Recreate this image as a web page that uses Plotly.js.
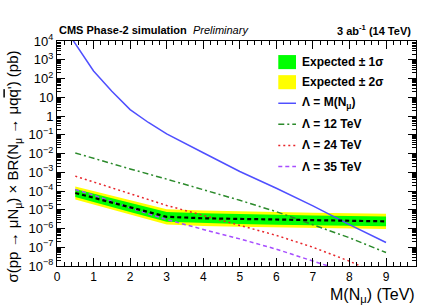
<!DOCTYPE html>
<html>
<head>
<meta charset="utf-8">
<script src="https://cdn.plot.ly/plotly-3.0.1.min.js"></script>
<style>html,body{margin:0;padding:0;background:#fff;}#chart{width:425px;height:307px;}</style>
</head>
<body>
<div id="chart"></div>
<script>
// ---- data ----
var massPoints = [0.5, 1, 2, 3, 4, 5, 6, 7, 8, 9];
var expMedian = [7.8e-5, 4.4e-5, 1.3e-5, 4.2e-6, 3.5e-6, 3.2e-6, 2.9e-6, 2.7e-6, 2.5e-6, 2.4e-6];
var expPlus1  = [1.26e-4, 7.2e-5, 2.3e-5, 7.6e-6, 6.5e-6, 5.8e-6, 5.2e-6, 4.9e-6, 4.6e-6, 4.4e-6];
var expMinus1 = [4.8e-5, 2.6e-5, 7.6e-6, 2.3e-6, 1.95e-6, 1.74e-6, 1.58e-6, 1.48e-6, 1.38e-6, 1.32e-6];
var expPlus2  = [1.74e-4, 1.0e-4, 3.2e-5, 1.07e-5, 9.1e-6, 8.1e-6, 7.4e-6, 6.9e-6, 6.5e-6, 6.2e-6];
var expMinus2 = [3.5e-5, 1.9e-5, 5.5e-6, 1.62e-6, 1.38e-6, 1.23e-6, 1.12e-6, 1.05e-6, 9.8e-7, 9.3e-7];

var massLM = [0.3, 1, 1.5, 2, 2.5, 3, 4, 5, 6, 7, 8, 9];
var xsecLM = [2.75e4, 250, 21, 2.2, 0.45, 0.11, 1.1e-2, 1.1e-3, 1.4e-4, 1.6e-5, 1.6e-6, 1.8e-7];

var xsec12 = [1.07e-2, 5.4e-3, 1.5e-3, 4.3e-4, 1.2e-4, 3.2e-5, 7.9e-6, 1.6e-6, 3.2e-7, 5.2e-8];
var xsec24 = [6.2e-4, 3.0e-4, 7.1e-5, 1.7e-5, 5.0e-6, 1.5e-6, 4.3e-7, 1.0e-7, 1.8e-8, 2.5e-9];
var xsec35 = [1.2e-4, 6.0e-5, 1.26e-5, 3.0e-6, 8.9e-7, 2.8e-7, 7.9e-8, 1.9e-8, 4.5e-9, 1.0e-9];

var xTickVals = [0,1,2,3,4,5,6,7,8,9];
var xTickText = ['0','1','2','3','4','5','6','7','8','9'];
var yTickExp = [4,3,2,1,0,-1,-2,-3,-4,-5,-6,-7,-8];
var yTickText = ['10<sup>4</sup>','10<sup>3</sup>','10<sup>2</sup>','10','1','10<sup>\u22121</sup>','10<sup>\u22122</sup>','10<sup>\u22123</sup>','10<sup>\u22124</sup>','10<sup>\u22125</sup>','10<sup>\u22126</sup>','10<sup>\u22127</sup>','10<sup>\u22128</sup>'];

var legendLabels = ['Expected \u00b1 1\u03c3','Expected \u00b1 2\u03c3','\u039b = M(N<sub>\u03bc</sub>)','\u039b = 12 TeV','\u039b = 24 TeV','\u039b = 35 TeV'];

// ---- build ----
function band(lo, hi) {
  return {
    x: massPoints.concat(massPoints.slice().reverse()),
    y: hi.concat(lo.slice().reverse())
  };
}
var b2 = band(expMinus2, expPlus2);
var b1 = band(expMinus1, expPlus1);

var colGreenBand = '#00ff00', colYellowBand = '#ffff00';
var colBlue = '#4f4fff', colGreen = '#2b8a2b', colRed = '#e8262b', colViolet = '#a64dff';

var traces = [
  {x: b2.x, y: b2.y, type: 'scatter', mode: 'lines', fill: 'toself', fillcolor: colYellowBand, line: {width: 0, color: colYellowBand}, showlegend: false, name: legendLabels[1], hoverinfo: 'skip'},
  {x: b1.x, y: b1.y, type: 'scatter', mode: 'lines', fill: 'toself', fillcolor: colGreenBand, line: {width: 0, color: colGreenBand}, showlegend: false, name: legendLabels[0], hoverinfo: 'skip'},
  {x: massLM, y: xsecLM, type: 'scatter', mode: 'lines', line: {color: colBlue, width: 1.5}, showlegend: false, name: legendLabels[2]},
  {x: massPoints, y: xsec12, type: 'scatter', mode: 'lines', line: {color: colGreen, width: 1.5, dash: '6px,3px,2px,3px'}, showlegend: false, name: legendLabels[3]},
  {x: massPoints, y: xsec24, type: 'scatter', mode: 'lines', line: {color: colRed, width: 1.5, dash: '2px,3px'}, showlegend: false, name: legendLabels[4]},
  {x: massPoints, y: xsec35, type: 'scatter', mode: 'lines', line: {color: colViolet, width: 1.5, dash: '4px,3px'}, showlegend: false, name: legendLabels[5]},
  {x: massPoints, y: expMedian, type: 'scatter', mode: 'lines', line: {color: '#000000', width: 2.2, dash: '4px,3px'}, showlegend: false, name: 'Expected'}
];

// minor ticks
var yMinor = [];
for (var e = -8; e < 4; e++) { for (var k = 2; k <= 9; k++) yMinor.push(k * Math.pow(10, e)); }
var xMinor = [];
for (var i = 0; i <= 49; i++) { if (i % 5 !== 0) xMinor.push(i * 0.2); }

var font = 'Liberation Sans, Arial, Helvetica, sans-serif';

// legend (manual, ROOT style)
var L = {x0: 0.6164, x1: 0.6657, tx: 0.678, rows: [63, 83, 104, 125, 146, 167]};
function py(p) { return (266 - p) / 224; }
var shapes = [
  {type: 'rect', xref: 'paper', yref: 'paper', x0: L.x0, x1: L.x1, y0: py(L.rows[0] + 7), y1: py(L.rows[0] - 7), fillcolor: colGreenBand, line: {width: 0}},
  {type: 'rect', xref: 'paper', yref: 'paper', x0: L.x0, x1: L.x1, y0: py(L.rows[1] + 7), y1: py(L.rows[1] - 7), fillcolor: colYellowBand, line: {width: 0}},
  {type: 'line', xref: 'paper', yref: 'paper', x0: L.x0, x1: L.x1, y0: py(L.rows[2]), y1: py(L.rows[2]), line: {color: colBlue, width: 1.5}},
  {type: 'line', xref: 'paper', yref: 'paper', x0: L.x0, x1: L.x1, y0: py(L.rows[3]), y1: py(L.rows[3]), line: {color: colGreen, width: 1.5, dash: '6px,3px,2px,3px'}},
  {type: 'line', xref: 'paper', yref: 'paper', x0: L.x0, x1: L.x1, y0: py(L.rows[4]), y1: py(L.rows[4]), line: {color: colRed, width: 1.5, dash: '2px,3px'}},
  {type: 'line', xref: 'paper', yref: 'paper', x0: L.x0, x1: L.x1, y0: py(L.rows[5]), y1: py(L.rows[5]), line: {color: colViolet, width: 1.5, dash: '4px,3px'}}
];

var annotations = [];
for (var r = 0; r < legendLabels.length; r++) {
  annotations.push({xref: 'paper', yref: 'paper', x: L.tx, y: py(L.rows[r]), xanchor: 'left', yanchor: 'middle', text: legendLabels[r], showarrow: false, font: {family: font, size: 12, color: '#000', weight: 'bold'}});
}
annotations.push({xref: 'paper', yref: 'paper', x: 0.0, y: py(31), xanchor: 'left', yanchor: 'middle', text: '<b>CMS Phase-2 simulation</b>  <i>Preliminary</i>', showarrow: false, font: {family: font, size: 11, color: '#000'}});
annotations.push({xref: 'paper', yref: 'paper', x: 0.992, y: py(31), xanchor: 'right', yanchor: 'middle', text: '<b>3 ab<sup>-1</sup> (14 TeV)</b>', showarrow: false, font: {family: font, size: 11, color: '#000'}});
annotations.push({xref: 'paper', yref: 'paper', x: 1.002, y: py(295), xanchor: 'right', yanchor: 'middle', text: 'M(N<sub>\u03bc</sub>) (TeV)', showarrow: false, font: {family: font, size: 16, color: '#000'}});
annotations.push({xref: 'paper', yref: 'paper', x: -0.12, y: py(167), xanchor: 'center', yanchor: 'middle', textangle: -90, text: '\u03c3(pp \u2192 \u03bcN<sub>\u03bc</sub>) \u00d7 BR(N<sub>\u03bc</sub> \u2192 \u03bcq<span style="text-decoration:overline">q</span>\') (pb)', showarrow: false, font: {family: font, size: 15, color: '#000'}});

var layout = {
  width: 425, height: 307,
  margin: {l: 57, r: 9, t: 41, b: 41, pad: 0},
  paper_bgcolor: '#fff', plot_bgcolor: '#fff',
  showlegend: false,
  xaxis: {
    range: [0, 9.82], showgrid: false, zeroline: false,
    showline: true, linecolor: '#000', linewidth: 1, mirror: 'ticks',
    ticks: 'inside', ticklen: 8, tickcolor: '#000', tickwidth: 1,
    tickmode: 'array', tickvals: xTickVals, ticktext: xTickText,
    tickfont: {family: font, size: 12, color: '#000'},
    minor: {tickmode: 'array', tickvals: xMinor, ticks: 'inside', ticklen: 4, tickcolor: '#000', showgrid: false}
  },
  yaxis: {
    type: 'log', range: [-8, 4], showgrid: false, zeroline: false,
    showline: true, linecolor: '#000', linewidth: 1, mirror: 'ticks',
    ticks: 'inside', ticklen: 8, tickcolor: '#000', tickwidth: 1,
    tickmode: 'array', tickvals: yTickExp.map(function (p) { return Math.pow(10, p); }), ticktext: yTickText,
    tickfont: {family: font, size: 13, color: '#000'},
    minor: {tickmode: 'array', tickvals: yMinor, ticks: 'inside', ticklen: 4, tickcolor: '#000', showgrid: false}
  },
  shapes: shapes,
  annotations: annotations
};

Plotly.newPlot('chart', traces, layout, {staticPlot: true, displayModeBar: false});
</script>
</body>
</html>
